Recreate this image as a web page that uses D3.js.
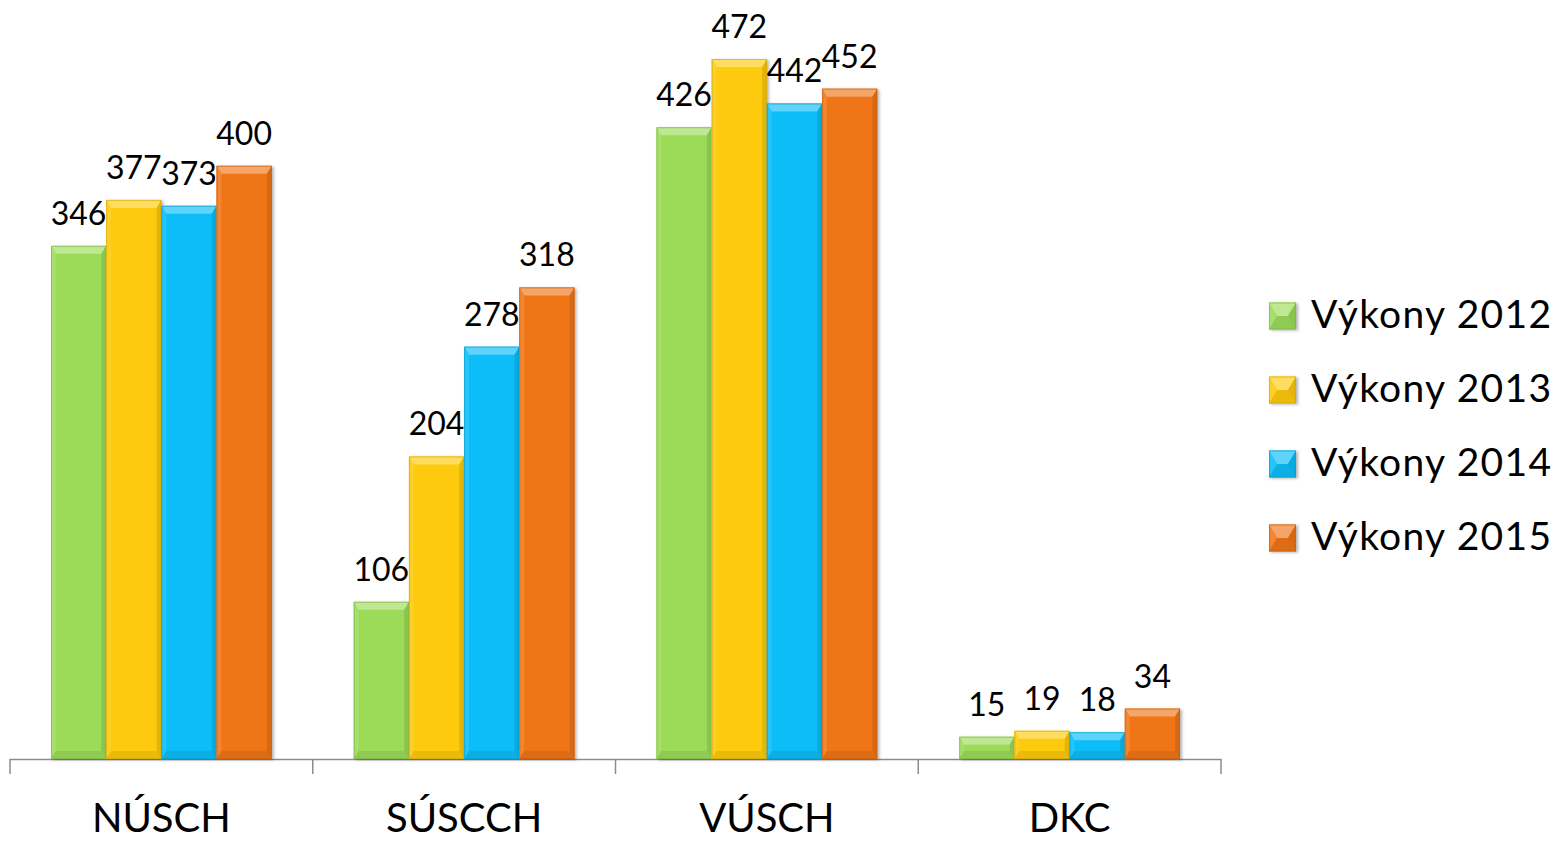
<!DOCTYPE html>
<html>
<head>
<meta charset="utf-8">
<script src="https://cdn.jsdelivr.net/npm/d3@7"></script>
<style>
  html, body { margin: 0; padding: 0; background: #ffffff; }
  svg { display: block; font-family: Lato, "Open Sans", sans-serif; }
</style>
</head>
<body>
<svg id="chart" width="1560" height="841"></svg>
<script>
const categories = ["NÚSCH", "SÚSCCH", "VÚSCH", "DKC"];
const seriesNames = ["Výkony 2012", "Výkony 2013", "Výkony 2014", "Výkony 2015"];
const values2012 = [346, 106, 426, 15];
const values2013 = [377, 204, 472, 19];
const values2014 = [373, 278, 442, 18];
const values2015 = [400, 318, 452, 34];
const seriesColors = ["#9bdb58", "#fdca0a", "#08bdf8", "#f07515"];

const seriesValues = [values2012, values2013, values2014, values2015];

const svg = d3.select("#chart");

const defs = svg.append("defs");
const f = defs.append("filter").attr("id", "shadow")
  .attr("x", "-20%").attr("y", "-20%").attr("width", "140%").attr("height", "140%");
f.append("feDropShadow").attr("dx", 2).attr("dy", 1).attr("stdDeviation", 1.5)
  .attr("flood-color", "#000").attr("flood-opacity", 0.3);

const x0 = d3.scaleBand().domain(categories).range([10, 1221]).padding(0);
const x1 = d3.scaleBand().domain(seriesNames)
  .range([41, x0.bandwidth() - 41]).padding(0);
const y = d3.scaleLinear().domain([0, 472]).range([759, 59]);

// axis line with boundary ticks
const axisG = svg.append("g");
const bounds = categories.map(c => x0(c)).concat([x0.range()[1]]);
axisG.append("line")
  .attr("x1", x0.range()[0]).attr("x2", x0.range()[1])
  .attr("y1", y(0) + 0.5).attr("y2", y(0) + 0.5)
  .attr("stroke", "#8c8c8c").attr("stroke-width", 1.5);
axisG.selectAll("line.tick").data(bounds).join("line")
  .attr("class", "tick")
  .attr("x1", d => d).attr("x2", d => d)
  .attr("y1", y(0)).attr("y2", y(0) + 15)
  .attr("stroke", "#8c8c8c").attr("stroke-width", 1.5);
axisG.selectAll("text.cat").data(categories).join("text")
  .attr("class", "cat")
  .attr("x", d => x0(d) + x0.bandwidth() / 2)
  .attr("y", 832)
  .attr("text-anchor", "middle")
  .attr("font-size", 40)
  .attr("fill", "#000")
  .text(d => d);

function bevel(g, x, yTop, w, h, color, b) {
  const c = d3.color(color);
  const light = d3.interpolateRgb(color, "#ffffff")(0.35);
  const lightSide = d3.interpolateRgb(color, "#ffffff")(0.12);
  const darkSide = c.darker(0.45).toString();
  const dark = c.darker(0.6).toString();
  const bt = Math.min(b, h / 2), bs = Math.min(b * 0.6, w / 2);
  g.append("rect").attr("x", x).attr("y", yTop).attr("width", w).attr("height", h)
    .attr("fill", color).attr("filter", "url(#shadow)");
  // top
  g.append("path").attr("d",
    `M${x},${yTop}L${x + w},${yTop}L${x + w - bs},${yTop + bt}L${x + bs},${yTop + bt}Z`)
    .attr("fill", light);
  // left
  g.append("path").attr("d",
    `M${x},${yTop}L${x + bs},${yTop + bt}L${x + bs},${yTop + h - bt}L${x},${yTop + h}Z`)
    .attr("fill", lightSide);
  // right
  g.append("path").attr("d",
    `M${x + w},${yTop}L${x + w},${yTop + h}L${x + w - bs},${yTop + h - bt}L${x + w - bs},${yTop + bt}Z`)
    .attr("fill", darkSide).attr("opacity", 0.7);
  // bottom
  g.append("path").attr("d",
    `M${x},${yTop + h}L${x + bs},${yTop + h - bt}L${x + w - bs},${yTop + h - bt}L${x + w},${yTop + h}Z`)
    .attr("fill", darkSide).attr("opacity", 0.5);
  g.append("rect").attr("x", x + 0.5).attr("y", yTop + 0.5).attr("width", w - 1).attr("height", h - 1)
    .attr("fill", "none").attr("stroke", dark).attr("stroke-width", 1).attr("opacity", 0.6);
}

const barsG = svg.append("g");
const labelsG = svg.append("g");
seriesNames.forEach((s, si) => {
  categories.forEach((c, ci) => {
    const v = seriesValues[si][ci];
    const bx = x0(c) + x1(s);
    const bw = x1.bandwidth();
    const g = barsG.append("g");
    bevel(g, bx, y(v), bw, y(0) - y(v), seriesColors[si], 8);
    labelsG.append("text")
      .attr("x", bx + bw / 2)
      .attr("y", y(v) - 21)
      .attr("text-anchor", "middle")
      .attr("font-size", 32)
      .attr("fill", "#000")
      .text(v);
  });
});

// legend
const legendY = d3.scalePoint().domain(seriesNames).range([316, 538]);
const legG = svg.append("g");
seriesNames.forEach((s, si) => {
  const cy = legendY(s);
  const g = legG.append("g");
  bevel(g, 1269, cy - 13.5, 27, 27, seriesColors[si], 13.5);
  legG.append("text")
    .attr("x", 1311)
    .attr("y", cy + 12)
    .attr("font-size", 39)
    .attr("textLength", 240)
    .attr("lengthAdjust", "spacing")
    .attr("fill", "#000")
    .text(s);
});
</script>
</body>
</html>
